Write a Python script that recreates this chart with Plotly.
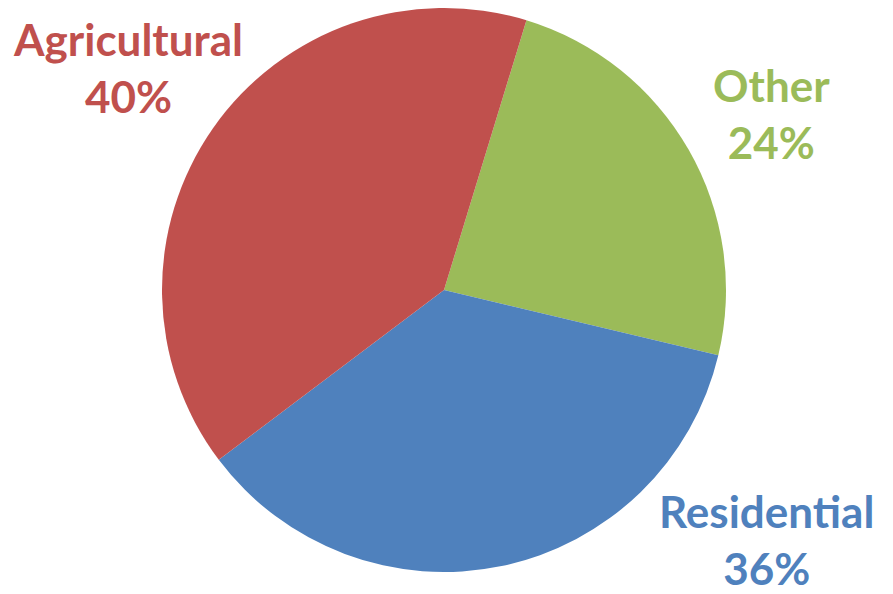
import plotly.graph_objects as go

labels = ["Other", "Residential", "Agricultural"]
values = [24, 36, 40]
colors = ["#9BBB59", "#4F81BD", "#C0504D"]

W, H = 893, 594
OFF = 8  # page body margin in the browser
# label block centres in page pixels (text placement only)
label_pos = {"Other": (771, 113), "Residential": (766, 539), "Agricultural": (128, 68)}

fig = go.Figure(go.Pie(
    labels=labels, values=values, sort=False, direction="clockwise", rotation=17,
    marker=dict(colors=colors, line=dict(width=0)),
    textinfo="none", hoverinfo="label+percent",
    domain=dict(x=[0, (888 - 2 * OFF) / W], y=[1 - (572 - OFF) / H, 1 - (8 - OFF) / H]),
    showlegend=False,
))

total = sum(values)
for lab, val, col in zip(labels, values, colors):
    px, py = label_pos[lab]
    fig.add_annotation(
        x=(px - OFF) / W, y=1 - (py - OFF) / H, xref="paper", yref="paper",
        text=f"{lab}<br>{round(100 * val / total)}%", showarrow=False,
        font=dict(family="Lato", size=44, color=col, weight="bold"),
        xanchor="center", yanchor="middle", align="center",
    )

fig.update_layout(width=W, height=H, margin=dict(l=0, r=0, t=0, b=0),
                  paper_bgcolor="white", plot_bgcolor="white")
fig.write_html("out.html")
